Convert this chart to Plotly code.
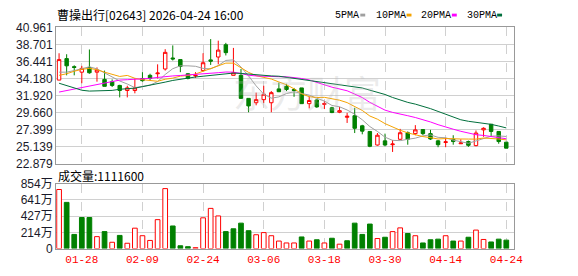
import plotly.graph_objects as go

# ---------------- data ----------------
dates = ["01-23", "01-26", "01-27", "01-28", "01-29", "01-30", "02-02", "02-03", "02-04", "02-05",
         "02-06", "02-09", "02-10", "02-11", "02-12", "02-13", "02-16", "02-20", "02-23", "02-24",
         "02-25", "02-26", "02-27", "03-02", "03-03", "03-04", "03-05", "03-06", "03-09", "03-10",
         "03-11", "03-12", "03-13", "03-16", "03-17", "03-18", "03-19", "03-20", "03-23", "03-24",
         "03-25", "03-26", "03-27", "03-30", "03-31", "04-01", "04-02", "04-08", "04-09", "04-10",
         "04-13", "04-14", "04-15", "04-16", "04-17", "04-20", "04-21", "04-22", "04-23", "04-24"]

opens = [33.97, 36.82, 35.75, 35.02, 35.65, 35.02, 34.06, 33.76, 33.26, 32.59,
         32.59, 34.18, 34.60, 34.81, 35.44, 36.90, 36.69, 34.81, 34.52, 35.23,
         36.65, 37.03, 38.66, 34.60, 34.60, 31.54, 30.96, 31.37, 30.96, 32.80,
         33.14, 32.72, 32.93, 30.84, 31.33, 30.75, 30.29, 29.70, 29.03, 29.24,
         27.90, 27.15, 25.35, 25.90, 25.39, 26.11, 26.98, 26.86, 27.40, 26.86,
         25.90, 25.69, 26.11, 25.52, 25.81, 25.27, 27.36, 28.11, 27.15, 25.73]
highs = [37.53, 37.40, 35.93, 35.86, 38.03, 35.65, 35.23, 34.06, 33.34, 33.22,
         34.18, 35.02, 34.81, 36.06, 38.07, 38.57, 36.69, 34.90, 35.02, 37.53,
         39.41, 39.20, 38.91, 38.24, 35.44, 31.54, 32.30, 33.22, 32.51, 33.64,
         33.47, 32.93, 32.93, 31.80, 31.45, 31.17, 30.42, 30.42, 29.62, 30.29,
         28.03, 27.15, 26.94, 26.86, 26.02, 27.49, 27.15, 27.99, 27.40, 27.36,
         26.02, 26.31, 26.65, 26.11, 25.94, 27.28, 27.70, 28.11, 27.15, 25.73]
lows = [33.97, 34.60, 34.60, 33.55, 34.81, 33.76, 33.14, 33.05, 31.67, 31.67,
        32.21, 33.76, 33.97, 34.18, 35.23, 36.57, 35.02, 34.06, 34.27, 35.23,
        35.98, 36.06, 37.24, 34.60, 31.54, 29.70, 30.62, 30.92, 29.70, 32.38,
        32.51, 31.75, 30.84, 30.21, 30.29, 30.12, 29.58, 29.58, 28.28, 26.94,
        26.77, 25.06, 25.27, 25.18, 24.43, 26.02, 25.39, 26.65, 26.65, 26.02,
        25.06, 25.06, 25.39, 25.48, 25.10, 25.18, 26.44, 26.44, 25.52, 24.93]
closes = [36.69, 35.86, 35.65, 35.52, 34.94, 35.31, 33.14, 33.26, 32.59, 32.93,
          32.93, 33.89, 34.18, 34.90, 37.65, 36.78, 35.77, 34.18, 34.60, 36.27,
          36.48, 37.95, 37.61, 34.94, 31.54, 30.54, 31.37, 32.09, 32.30, 32.42,
          32.72, 32.59, 30.84, 31.26, 30.41, 30.84, 29.66, 29.91, 29.16, 27.57,
          27.19, 25.18, 26.65, 25.35, 25.48, 26.98, 26.11, 27.36, 26.86, 26.15,
          25.39, 25.77, 25.81, 25.62, 25.31, 26.94, 27.57, 27.15, 25.81, 24.93]

ma5 = [35.02, 35.02, 35.23, 35.52, 35.73, 35.46, 34.91, 34.43, 33.85, 33.45,
       32.97, 33.12, 33.30, 33.77, 34.71, 35.48, 35.86, 35.86, 35.80, 35.52,
       35.46, 35.90, 36.58, 36.65, 35.70, 34.52, 33.20, 32.10, 31.57, 31.74,
       32.18, 32.42, 32.17, 31.97, 31.56, 31.19, 30.60, 30.42, 30.00, 29.43,
       28.70, 27.80, 27.15, 26.39, 25.97, 25.93, 26.11, 26.26, 26.56, 26.69,
       26.37, 26.31, 26.00, 25.75, 25.58, 25.89, 26.25, 26.52, 26.56, 26.48]
ma10 = [34.60, 34.81, 35.14, 35.40, 35.52, 35.35, 35.02, 34.73, 34.45, 34.59,
        34.21, 34.02, 33.87, 33.81, 34.08, 34.23, 34.49, 34.58, 34.78, 35.12,
        35.47, 35.88, 36.22, 36.22, 35.61, 34.99, 34.55, 34.34, 34.11, 33.72,
        33.35, 32.81, 32.14, 31.77, 31.65, 31.68, 31.51, 31.30, 30.98, 30.50,
        29.94, 29.20, 28.78, 28.19, 27.70, 27.31, 26.96, 26.70, 26.47, 26.33,
        26.15, 26.21, 26.13, 26.15, 26.14, 26.13, 26.28, 26.26, 26.15, 26.03]
ma20 = [32.38, 32.58, 32.80, 33.02, 33.25, 33.45, 33.65, 33.85, 33.97, 34.02,
        34.06, 34.10, 34.20, 34.32, 34.45, 34.52, 34.58, 34.64, 34.75, 34.85,
        34.84, 34.95, 35.04, 35.02, 34.85, 34.61, 34.52, 34.46, 34.45, 34.42,
        34.41, 34.34, 34.18, 33.99, 33.63, 33.34, 33.03, 32.82, 32.55, 32.11,
        31.65, 31.01, 30.46, 29.98, 29.68, 29.50, 29.24, 29.00, 28.73, 28.41,
        28.05, 27.71, 27.45, 27.17, 26.92, 26.72, 26.62, 26.48, 26.31, 26.18]
ma30 = [33.55, 33.22, 32.90, 32.62, 32.51, 32.51, 32.51, 32.60, 32.75, 32.80,
        32.90, 33.10, 33.28, 33.45, 33.70, 33.92, 34.10, 34.25, 34.38, 34.48,
        34.60, 34.75, 34.85, 34.90, 34.85, 34.75, 34.68, 34.60, 34.52, 34.48,
        34.34, 34.23, 34.07, 33.93, 33.78, 33.63, 33.52, 33.40, 33.29, 33.11,
        32.92, 32.63, 32.38, 32.06, 31.66, 31.33, 31.01, 30.78, 30.52, 30.18,
        29.81, 29.41, 29.01, 28.70, 28.50, 28.38, 28.25, 28.09, 27.87, 27.62]

# volume in 万 (10k shares)
volumes = [776, 607, 186, 408, 408, 157, 223, 83, 173, 70,
           268, 169, 107, 380, 788, 297, 37, 25, 12, 404,
           528, 429, 223, 260, 334, 235, 182, 210, 169, 99,
           74, 74, 153, 99, 116, 74, 136, 58, 103, 334,
           186, 322, 132, 149, 223, 272, 198, 169, 74, 116,
           124, 169, 99, 99, 149, 243, 120, 87, 124, 111.16]
# 1 = up day (red hollow bar), 0 = down day (green bar)
vol_up = [1, 0, 0, 0, 0, 1, 0, 1, 0, 1,
          1, 1, 1, 1, 1, 0, 0, 0, 1, 1,
          1, 1, 0, 0, 0, 0, 1, 1, 1, 1,
          1, 1, 0, 1, 0, 1, 0, 1, 0, 0,
          0, 0, 1, 0, 1, 1, 0, 1, 0, 0,
          0, 1, 0, 1, 0, 1, 1, 0, 0, 0]

price_ticks = [22.879, 25.139, 27.399, 29.660, 31.920, 34.180, 36.441, 38.701, 40.961]
price_labels = ["22.879", "25.139", "27.399", "29.660", "31.920", "34.180", "36.441", "38.701", "40.961"]
vol_ticks = [0, 213.5, 427, 640.5, 854]
vol_labels = ["0", "214万", "427万", "641万", "854万"]
date_ticks = ["01-28", "02-09", "02-24", "03-06", "03-18", "03-30", "04-14", "04-24"]

title_text = "曹操出行[02643] 2026-04-24 16:00"
vol_title = "成交量:1111600"
ma_names = ["5PMA", "10PMA", "20PMA", "30PMA"]

# ---------------- styling ----------------
W, H = 578, 276
RED = "#ff0000"
GREEN = "#008000"
MA_COLORS = ["#a0a0a0", "#f5a300", "#ff00ff", "#006f3c"]
GRID = "#d0d0d0"
FRAME = "#999999"

X0, X1 = 57, 522
def px_x(p):
    return p / W
def px_y(p):
    return 1 - p / H

fig = go.Figure()

fig.add_trace(go.Candlestick(
    x=dates, open=opens, high=highs, low=lows, close=closes,
    increasing=dict(line=dict(color=RED, width=1), fillcolor="white"),
    decreasing=dict(line=dict(color=GREEN, width=1), fillcolor=GREEN),
    whiskerwidth=0, xaxis="x", yaxis="y", showlegend=False, hoverinfo="skip"))

for name, vals, col in zip(ma_names, [ma5, ma10, ma20, ma30], MA_COLORS):
    fig.add_trace(go.Scatter(x=dates, y=vals, mode="lines", name=name,
                             line=dict(color=col, width=1), xaxis="x", yaxis="y",
                             showlegend=False, hoverinfo="skip"))

fig.add_trace(go.Bar(
    x=dates, y=volumes, width=0.62,
    marker=dict(color=["white" if u else GREEN for u in vol_up],
                line=dict(color=[RED if u else GREEN for u in vol_up], width=1)),
    xaxis="x2", yaxis="y2", showlegend=False, hoverinfo="skip"))

xr = [-0.39, 60.0]
tickfont_y = dict(family="Liberation Sans, Noto Sans CJK SC", size=12, color="#1a1a2a")

fig.update_layout(
    width=W, height=H, autosize=False,
    margin=dict(l=0, r=0, t=0, b=0),
    paper_bgcolor="white", plot_bgcolor="white",
    showlegend=False, bargap=0.3, boxgap=0.35,
    xaxis=dict(domain=[px_x(X0), px_x(X1)], type="category", range=xr,
               tickvals=date_ticks, showticklabels=False, ticks="",
               showgrid=True, gridcolor=GRID, griddash="dash", gridwidth=1,
               showline=True, linecolor=FRAME, linewidth=1, mirror=True,
               zeroline=False, anchor="y", rangeslider=dict(visible=False),
               fixedrange=True),
    yaxis=dict(domain=[px_y(165), px_y(21.5)], range=[price_ticks[0], price_ticks[-1]],
               tickvals=price_ticks, ticktext=price_labels, ticks="",
               showgrid=True, gridcolor=GRID, gridwidth=1,
               showline=True, linecolor=FRAME, linewidth=1, mirror=True,
               zeroline=False, tickfont=tickfont_y, anchor="x", fixedrange=True),
    xaxis2=dict(domain=[px_x(X0), px_x(X1)], type="category", range=xr,
                tickvals=date_ticks, ticktext=date_ticks, ticks="",
                tickfont=dict(family="Liberation Mono", size=11, color=RED),
                showgrid=True, gridcolor=GRID, griddash="dash", gridwidth=1,
                showline=True, linecolor=FRAME, linewidth=1, mirror=True,
                zeroline=False, anchor="y2", fixedrange=True),
    yaxis2=dict(domain=[px_y(254.5), px_y(186)], range=[0, 854],
                tickvals=vol_ticks, ticktext=vol_labels, ticks="",
                showgrid=True, gridcolor=GRID, gridwidth=1,
                showline=True, linecolor=FRAME, linewidth=1, mirror=True,
                zeroline=False, tickfont=tickfont_y, anchor="x2", fixedrange=True),
)

annotations = [
    dict(text=title_text, x=px_x(56), y=px_y(7.5), xref="paper", yref="paper",
         xanchor="left", yanchor="middle", showarrow=False,
         font=dict(family="Noto Sans CJK SC", size=12, color="#000000")),
    dict(text=vol_title, x=px_x(57), y=px_y(177), xref="paper", yref="paper",
         xanchor="left", yanchor="middle", showarrow=False,
         font=dict(family="Noto Sans CJK SC", size=12, color="#000000")),
    dict(text="东方财富", x=px_x(312), y=px_y(90), xref="paper", yref="paper",
         xanchor="center", yanchor="middle", showarrow=False,
         font=dict(family="Noto Sans CJK SC", size=37, color="rgba(185,185,185,0.28)")),
]
shapes = []
legend_text_x = [338, 380, 426, 472]
legend_sq_x = [366, 413, 459, 505]
for name, col, tx, sx in zip(ma_names, MA_COLORS, legend_text_x, legend_sq_x):
    annotations.append(dict(text=name, x=px_x(tx), y=px_y(8.5), xref="paper", yref="paper",
                            xanchor="left", yanchor="middle", showarrow=False,
                            font=dict(family="Liberation Mono", size=10, color="#000000")))
    shapes.append(dict(type="rect", xref="paper", yref="paper",
                       x0=px_x(sx), x1=px_x(sx + 5), y0=px_y(10), y1=px_y(7),
                       fillcolor=col, line=dict(width=0)))

fig.update_layout(annotations=annotations, shapes=shapes)

fig.write_html("out.html", config={"displayModeBar": False, "staticPlot": True})
